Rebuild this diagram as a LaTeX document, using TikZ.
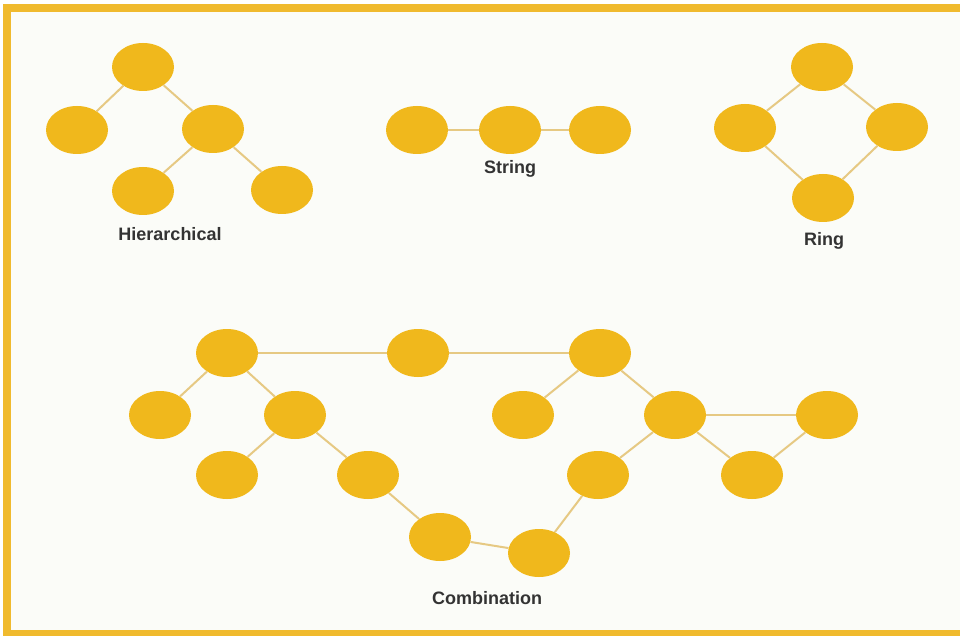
\documentclass[tikz,border=0pt]{standalone}
\usepackage{fontspec}
\setmainfont{Liberation Sans}
\usetikzlibrary{shapes.geometric}
\definecolor{nodefill}{HTML}{F0B81C}
\definecolor{linkcol}{HTML}{E6C983}
\definecolor{framecol}{HTML}{F0BA2E}
\definecolor{bgcol}{HTML}{FBFCF8}
\definecolor{labcol}{HTML}{333333}
\tikzset{
  net/.style={ellipse, fill=nodefill, minimum width=62pt, minimum height=48pt, inner sep=0pt},
  link/.style={draw=linkcol, line width=2pt},
  lab/.style={text=labcol, font=\fontsize{18}{20}\selectfont\bfseries}
}
\begin{document}
\begin{tikzpicture}[x=1pt,y=-1pt]
\useasboundingbox (0,0) rectangle (960,636);
\fill[white] (0,0) rectangle (960,636);
\fill[bgcol] (11,12) rectangle (960,630);
\fill[framecol] (3,4) rectangle (960,12);
\fill[framecol] (3,4) rectangle (11,636);
\fill[framecol] (3,630) rectangle (960,636);
% Hierarchical
\node[net] (h1) at (143,67) {};
\node[net] (h2) at (77,130) {};
\node[net] (h3) at (213,129) {};
\node[net] (h4) at (143,191) {};
\node[net] (h5) at (282,190) {};
\node[lab] (hl) at (170,234) {Hierarchical};
\draw[link] (h1) -- (h2);
\draw[link] (h1) -- (h3);
\draw[link] (h3) -- (h4);
\draw[link] (h3) -- (h5);
% String
\node[net] (s1) at (417,130) {};
\node[net] (s2) at (510,130) {};
\node[net] (s3) at (600,130) {};
\node[lab] (sl) at (510,169) {String};
\draw[link] (s1) -- (s2);
\draw[link] (s2) -- (s3);
% Ring
\node[net] (r1) at (822,67) {};
\node[net] (r2) at (745,128) {};
\node[net] (r3) at (897,127) {};
\node[net] (r4) at (823,198) {};
\node[lab] (rl) at (824,241) {Ring};
\draw[link] (r1) -- (r2);
\draw[link] (r1) -- (r3);
\draw[link] (r2) -- (r4);
\draw[link] (r3) -- (r4);
% Combination
\node[net] (a) at (227,353) {};
\node[net] (b) at (418,353) {};
\node[net] (c) at (600,353) {};
\node[net] (l1) at (160,415) {};
\node[net] (m1) at (295,415) {};
\node[net] (bl) at (227,475) {};
\node[net] (br) at (368,475) {};
\node[net] (d1) at (440,537) {};
\node[net] (d2) at (539,553) {};
\node[net] (cl) at (523,415) {};
\node[net] (cm) at (675,415) {};
\node[net] (cr) at (827,415) {};
\node[net] (cbl) at (598,475) {};
\node[net] (cbr) at (752,475) {};
\node[lab] (cbn) at (487,598) {Combination};
\draw[link] (a) -- (b);
\draw[link] (b) -- (c);
\draw[link] (a) -- (l1);
\draw[link] (a) -- (m1);
\draw[link] (m1) -- (bl);
\draw[link] (m1) -- (br);
\draw[link] (br) -- (d1);
\draw[link] (d1) -- (d2);
\draw[link] (d2) -- (cbl);
\draw[link] (cbl) -- (cm);
\draw[link] (c) -- (cl);
\draw[link] (c) -- (cm);
\draw[link] (cm) -- (cr);
\draw[link] (cm) -- (cbr);
\draw[link] (cbr) -- (cr);
\end{tikzpicture}
\end{document}
